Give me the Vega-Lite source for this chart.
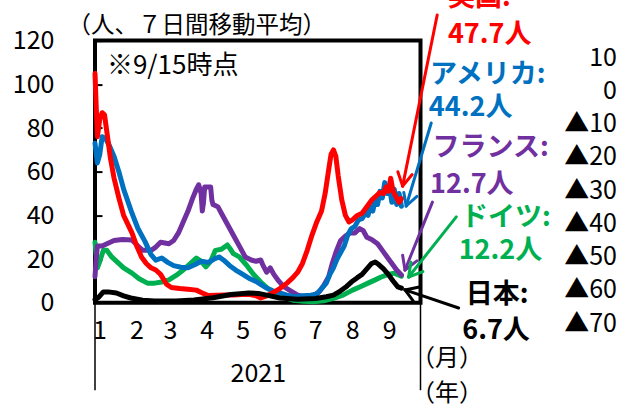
{
  "$schema": "https://vega.github.io/schema/vega-lite/v6.json",
  "width": 325.5,
  "height": 262.2,
  "autosize": "none",
  "padding": {"left": 95, "top": 40.6, "right": 198.5, "bottom": 102.2},
  "background": "white",
  "config": {
    "view": {"stroke": "black", "strokeWidth": 4},
    "font": "Noto Sans CJK JP",
    "axis": {"labelFont": "Noto Sans CJK JP", "titleFont": "Noto Sans CJK JP", "labelColor": "black", "titleColor": "black"}
  },
  "datasets": {
    "cases": [
      {"series": "ドイツ", "date": "2021-01-01", "value": 27.7},
      {"series": "ドイツ", "date": "2021-01-03", "value": 16},
      {"series": "ドイツ", "date": "2021-01-05", "value": 19},
      {"series": "ドイツ", "date": "2021-01-08", "value": 24},
      {"series": "ドイツ", "date": "2021-01-11", "value": 24},
      {"series": "ドイツ", "date": "2021-01-15", "value": 21},
      {"series": "ドイツ", "date": "2021-01-20", "value": 18.5},
      {"series": "ドイツ", "date": "2021-01-25", "value": 16},
      {"series": "ドイツ", "date": "2021-02-01", "value": 13.6},
      {"series": "ドイツ", "date": "2021-02-07", "value": 11},
      {"series": "ドイツ", "date": "2021-02-14", "value": 9},
      {"series": "ドイツ", "date": "2021-02-20", "value": 9},
      {"series": "ドイツ", "date": "2021-02-26", "value": 9.5},
      {"series": "ドイツ", "date": "2021-03-04", "value": 10.5},
      {"series": "ドイツ", "date": "2021-03-10", "value": 12.5},
      {"series": "ドイツ", "date": "2021-03-16", "value": 15},
      {"series": "ドイツ", "date": "2021-03-21", "value": 17.5},
      {"series": "ドイツ", "date": "2021-03-27", "value": 20.5},
      {"series": "ドイツ", "date": "2021-03-31", "value": 19},
      {"series": "ドイツ", "date": "2021-04-04", "value": 16.5},
      {"series": "ドイツ", "date": "2021-04-08", "value": 19},
      {"series": "ドイツ", "date": "2021-04-12", "value": 24},
      {"series": "ドイツ", "date": "2021-04-17", "value": 24.5},
      {"series": "ドイツ", "date": "2021-04-22", "value": 26.5},
      {"series": "ドイツ", "date": "2021-04-24", "value": 25},
      {"series": "ドイツ", "date": "2021-04-27", "value": 22.5},
      {"series": "ドイツ", "date": "2021-05-02", "value": 21},
      {"series": "ドイツ", "date": "2021-05-08", "value": 17.3},
      {"series": "ドイツ", "date": "2021-05-14", "value": 13},
      {"series": "ドイツ", "date": "2021-05-20", "value": 9.5},
      {"series": "ドイツ", "date": "2021-05-26", "value": 6.5},
      {"series": "ドイツ", "date": "2021-06-02", "value": 4.5},
      {"series": "ドイツ", "date": "2021-06-09", "value": 2.5},
      {"series": "ドイツ", "date": "2021-06-16", "value": 1.2},
      {"series": "ドイツ", "date": "2021-06-25", "value": 0.7},
      {"series": "ドイツ", "date": "2021-07-03", "value": 0.5},
      {"series": "ドイツ", "date": "2021-07-12", "value": 0.9},
      {"series": "ドイツ", "date": "2021-07-20", "value": 2},
      {"series": "ドイツ", "date": "2021-07-28", "value": 3.5},
      {"series": "ドイツ", "date": "2021-08-05", "value": 5.8},
      {"series": "ドイツ", "date": "2021-08-12", "value": 7.5},
      {"series": "ドイツ", "date": "2021-08-18", "value": 9},
      {"series": "ドイツ", "date": "2021-08-24", "value": 10.5},
      {"series": "ドイツ", "date": "2021-08-29", "value": 11.8},
      {"series": "ドイツ", "date": "2021-09-04", "value": 13},
      {"series": "ドイツ", "date": "2021-09-09", "value": 13.6},
      {"series": "ドイツ", "date": "2021-09-15", "value": 12.2},

      {"series": "フランス", "date": "2021-01-01", "value": 12},
      {"series": "フランス", "date": "2021-01-02", "value": 20},
      {"series": "フランス", "date": "2021-01-03", "value": 26},
      {"series": "フランス", "date": "2021-01-07", "value": 26},
      {"series": "フランス", "date": "2021-01-11", "value": 27},
      {"series": "フランス", "date": "2021-01-17", "value": 28.5},
      {"series": "フランス", "date": "2021-01-24", "value": 29},
      {"series": "フランス", "date": "2021-02-01", "value": 28.7},
      {"series": "フランス", "date": "2021-02-06", "value": 26},
      {"series": "フランス", "date": "2021-02-10", "value": 24},
      {"series": "フランス", "date": "2021-02-17", "value": 24},
      {"series": "フランス", "date": "2021-02-21", "value": 25.5},
      {"series": "フランス", "date": "2021-02-25", "value": 27.7},
      {"series": "フランス", "date": "2021-03-04", "value": 27},
      {"series": "フランス", "date": "2021-03-08", "value": 28.5},
      {"series": "フランス", "date": "2021-03-12", "value": 32},
      {"series": "フランス", "date": "2021-03-16", "value": 37},
      {"series": "フランス", "date": "2021-03-20", "value": 42},
      {"series": "フランス", "date": "2021-03-24", "value": 48},
      {"series": "フランス", "date": "2021-03-27", "value": 52},
      {"series": "フランス", "date": "2021-03-29", "value": 54},
      {"series": "フランス", "date": "2021-03-31", "value": 50},
      {"series": "フランス", "date": "2021-04-01", "value": 42},
      {"series": "フランス", "date": "2021-04-02", "value": 46},
      {"series": "フランス", "date": "2021-04-03", "value": 53},
      {"series": "フランス", "date": "2021-04-08", "value": 53},
      {"series": "フランス", "date": "2021-04-09", "value": 47},
      {"series": "フランス", "date": "2021-04-10", "value": 45},
      {"series": "フランス", "date": "2021-04-14", "value": 44},
      {"series": "フランス", "date": "2021-04-17", "value": 41},
      {"series": "フランス", "date": "2021-04-21", "value": 37},
      {"series": "フランス", "date": "2021-04-24", "value": 34},
      {"series": "フランス", "date": "2021-04-28", "value": 30},
      {"series": "フランス", "date": "2021-05-03", "value": 25},
      {"series": "フランス", "date": "2021-05-07", "value": 21},
      {"series": "フランス", "date": "2021-05-12", "value": 19.6},
      {"series": "フランス", "date": "2021-05-16", "value": 19},
      {"series": "フランス", "date": "2021-05-20", "value": 19.6},
      {"series": "フランス", "date": "2021-05-22", "value": 17},
      {"series": "フランス", "date": "2021-05-25", "value": 14},
      {"series": "フランス", "date": "2021-05-28", "value": 16},
      {"series": "フランス", "date": "2021-05-31", "value": 13},
      {"series": "フランス", "date": "2021-06-04", "value": 10},
      {"series": "フランス", "date": "2021-06-08", "value": 7.5},
      {"series": "フランス", "date": "2021-06-14", "value": 5.5},
      {"series": "フランス", "date": "2021-06-20", "value": 3.5},
      {"series": "フランス", "date": "2021-06-26", "value": 2.7},
      {"series": "フランス", "date": "2021-07-03", "value": 3.2},
      {"series": "フランス", "date": "2021-07-08", "value": 5},
      {"series": "フランス", "date": "2021-07-12", "value": 8},
      {"series": "フランス", "date": "2021-07-16", "value": 12},
      {"series": "フランス", "date": "2021-07-19", "value": 18},
      {"series": "フランス", "date": "2021-07-22", "value": 23},
      {"series": "フランス", "date": "2021-07-26", "value": 28.5},
      {"series": "フランス", "date": "2021-07-30", "value": 30.5},
      {"series": "フランス", "date": "2021-08-03", "value": 32},
      {"series": "フランス", "date": "2021-08-07", "value": 32},
      {"series": "フランス", "date": "2021-08-11", "value": 34},
      {"series": "フランス", "date": "2021-08-14", "value": 33},
      {"series": "フランス", "date": "2021-08-17", "value": 30},
      {"series": "フランス", "date": "2021-08-21", "value": 29},
      {"series": "フランス", "date": "2021-08-26", "value": 27},
      {"series": "フランス", "date": "2021-08-30", "value": 24},
      {"series": "フランス", "date": "2021-09-03", "value": 21},
      {"series": "フランス", "date": "2021-09-07", "value": 18},
      {"series": "フランス", "date": "2021-09-11", "value": 15},
      {"series": "フランス", "date": "2021-09-15", "value": 12.7},

      {"series": "アメリカ", "date": "2021-01-01", "value": 73},
      {"series": "アメリカ", "date": "2021-01-03", "value": 64},
      {"series": "アメリカ", "date": "2021-01-05", "value": 68},
      {"series": "アメリカ", "date": "2021-01-07", "value": 76},
      {"series": "アメリカ", "date": "2021-01-10", "value": 75},
      {"series": "アメリカ", "date": "2021-01-13", "value": 72},
      {"series": "アメリカ", "date": "2021-01-17", "value": 67},
      {"series": "アメリカ", "date": "2021-01-21", "value": 60},
      {"series": "アメリカ", "date": "2021-01-25", "value": 52},
      {"series": "アメリカ", "date": "2021-02-01", "value": 41},
      {"series": "アメリカ", "date": "2021-02-06", "value": 34},
      {"series": "アメリカ", "date": "2021-02-12", "value": 28},
      {"series": "アメリカ", "date": "2021-02-17", "value": 22},
      {"series": "アメリカ", "date": "2021-02-21", "value": 19.5},
      {"series": "アメリカ", "date": "2021-02-26", "value": 20.5},
      {"series": "アメリカ", "date": "2021-03-03", "value": 18.5},
      {"series": "アメリカ", "date": "2021-03-08", "value": 17},
      {"series": "アメリカ", "date": "2021-03-14", "value": 16.3},
      {"series": "アメリカ", "date": "2021-03-20", "value": 16},
      {"series": "アメリカ", "date": "2021-03-26", "value": 17.5},
      {"series": "アメリカ", "date": "2021-03-31", "value": 19},
      {"series": "アメリカ", "date": "2021-04-06", "value": 18.5},
      {"series": "アメリカ", "date": "2021-04-11", "value": 20},
      {"series": "アメリカ", "date": "2021-04-15", "value": 21},
      {"series": "アメリカ", "date": "2021-04-19", "value": 19.5},
      {"series": "アメリカ", "date": "2021-04-24", "value": 17},
      {"series": "アメリカ", "date": "2021-04-29", "value": 15},
      {"series": "アメリカ", "date": "2021-05-05", "value": 13},
      {"series": "アメリカ", "date": "2021-05-11", "value": 11},
      {"series": "アメリカ", "date": "2021-05-17", "value": 9.5},
      {"series": "アメリカ", "date": "2021-05-24", "value": 7},
      {"series": "アメリカ", "date": "2021-05-30", "value": 5.5},
      {"series": "アメリカ", "date": "2021-06-05", "value": 4.5},
      {"series": "アメリカ", "date": "2021-06-11", "value": 3.5},
      {"series": "アメリカ", "date": "2021-06-17", "value": 2.8},
      {"series": "アメリカ", "date": "2021-06-24", "value": 3.2},
      {"series": "アメリカ", "date": "2021-07-01", "value": 3.5},
      {"series": "アメリカ", "date": "2021-07-06", "value": 4},
      {"series": "アメリカ", "date": "2021-07-10", "value": 6.5},
      {"series": "アメリカ", "date": "2021-07-14", "value": 9},
      {"series": "アメリカ", "date": "2021-07-17", "value": 13},
      {"series": "アメリカ", "date": "2021-07-20", "value": 16},
      {"series": "アメリカ", "date": "2021-07-23", "value": 20},
      {"series": "アメリカ", "date": "2021-07-26", "value": 23},
      {"series": "アメリカ", "date": "2021-07-29", "value": 26},
      {"series": "アメリカ", "date": "2021-08-01", "value": 31},
      {"series": "アメリカ", "date": "2021-08-04", "value": 34},
      {"series": "アメリカ", "date": "2021-08-07", "value": 35},
      {"series": "アメリカ", "date": "2021-08-10", "value": 38},
      {"series": "アメリカ", "date": "2021-08-13", "value": 38.5},
      {"series": "アメリカ", "date": "2021-08-16", "value": 41},
      {"series": "アメリカ", "date": "2021-08-18", "value": 40},
      {"series": "アメリカ", "date": "2021-08-20", "value": 44},
      {"series": "アメリカ", "date": "2021-08-22", "value": 42},
      {"series": "アメリカ", "date": "2021-08-24", "value": 47},
      {"series": "アメリカ", "date": "2021-08-26", "value": 45},
      {"series": "アメリカ", "date": "2021-08-28", "value": 51},
      {"series": "アメリカ", "date": "2021-08-30", "value": 48},
      {"series": "アメリカ", "date": "2021-09-01", "value": 55},
      {"series": "アメリカ", "date": "2021-09-03", "value": 50},
      {"series": "アメリカ", "date": "2021-09-05", "value": 53},
      {"series": "アメリカ", "date": "2021-09-07", "value": 46},
      {"series": "アメリカ", "date": "2021-09-09", "value": 52},
      {"series": "アメリカ", "date": "2021-09-11", "value": 45},
      {"series": "アメリカ", "date": "2021-09-13", "value": 50},
      {"series": "アメリカ", "date": "2021-09-15", "value": 44.2},

      {"series": "英国", "date": "2021-01-01", "value": 105},
      {"series": "英国", "date": "2021-01-02", "value": 90},
      {"series": "英国", "date": "2021-01-03", "value": 76},
      {"series": "英国", "date": "2021-01-05", "value": 84},
      {"series": "英国", "date": "2021-01-07", "value": 87},
      {"series": "英国", "date": "2021-01-09", "value": 86},
      {"series": "英国", "date": "2021-01-11", "value": 78},
      {"series": "英国", "date": "2021-01-14", "value": 66},
      {"series": "英国", "date": "2021-01-17", "value": 57},
      {"series": "英国", "date": "2021-01-21", "value": 48},
      {"series": "英国", "date": "2021-01-25", "value": 40},
      {"series": "英国", "date": "2021-02-01", "value": 32},
      {"series": "英国", "date": "2021-02-05", "value": 26},
      {"series": "英国", "date": "2021-02-09", "value": 21},
      {"series": "英国", "date": "2021-02-13", "value": 18},
      {"series": "英国", "date": "2021-02-17", "value": 16},
      {"series": "英国", "date": "2021-02-21", "value": 15},
      {"series": "英国", "date": "2021-02-25", "value": 13},
      {"series": "英国", "date": "2021-03-02", "value": 8.5},
      {"series": "英国", "date": "2021-03-06", "value": 7},
      {"series": "英国", "date": "2021-03-13", "value": 6.5},
      {"series": "英国", "date": "2021-03-20", "value": 6.2},
      {"series": "英国", "date": "2021-03-27", "value": 5.8},
      {"series": "英国", "date": "2021-04-01", "value": 4.5},
      {"series": "英国", "date": "2021-04-06", "value": 3.3},
      {"series": "英国", "date": "2021-04-13", "value": 3.5},
      {"series": "英国", "date": "2021-04-20", "value": 3.6},
      {"series": "英国", "date": "2021-04-27", "value": 3.6},
      {"series": "英国", "date": "2021-05-04", "value": 3.8},
      {"series": "英国", "date": "2021-05-11", "value": 3.8},
      {"series": "英国", "date": "2021-05-16", "value": 3.2},
      {"series": "英国", "date": "2021-05-20", "value": 2.2},
      {"series": "英国", "date": "2021-05-25", "value": 3.2},
      {"series": "英国", "date": "2021-05-30", "value": 4.5},
      {"series": "英国", "date": "2021-06-05", "value": 6.5},
      {"series": "英国", "date": "2021-06-11", "value": 9},
      {"series": "英国", "date": "2021-06-16", "value": 11.5},
      {"series": "英国", "date": "2021-06-20", "value": 14},
      {"series": "英国", "date": "2021-06-24", "value": 18},
      {"series": "英国", "date": "2021-06-28", "value": 24},
      {"series": "英国", "date": "2021-07-02", "value": 31},
      {"series": "英国", "date": "2021-07-06", "value": 37},
      {"series": "英国", "date": "2021-07-10", "value": 42},
      {"series": "英国", "date": "2021-07-13", "value": 50},
      {"series": "英国", "date": "2021-07-16", "value": 61},
      {"series": "英国", "date": "2021-07-18", "value": 68},
      {"series": "英国", "date": "2021-07-20", "value": 70},
      {"series": "英国", "date": "2021-07-22", "value": 67},
      {"series": "英国", "date": "2021-07-24", "value": 58},
      {"series": "英国", "date": "2021-07-27", "value": 47},
      {"series": "英国", "date": "2021-07-30", "value": 40},
      {"series": "英国", "date": "2021-08-02", "value": 37},
      {"series": "英国", "date": "2021-08-05", "value": 38},
      {"series": "英国", "date": "2021-08-09", "value": 40},
      {"series": "英国", "date": "2021-08-13", "value": 41},
      {"series": "英国", "date": "2021-08-17", "value": 44},
      {"series": "英国", "date": "2021-08-21", "value": 47},
      {"series": "英国", "date": "2021-08-25", "value": 49},
      {"series": "英国", "date": "2021-08-28", "value": 50.5},
      {"series": "英国", "date": "2021-08-31", "value": 50},
      {"series": "英国", "date": "2021-09-02", "value": 53},
      {"series": "英国", "date": "2021-09-04", "value": 51},
      {"series": "英国", "date": "2021-09-06", "value": 57},
      {"series": "英国", "date": "2021-09-08", "value": 51},
      {"series": "英国", "date": "2021-09-11", "value": 48},
      {"series": "英国", "date": "2021-09-13", "value": 46},
      {"series": "英国", "date": "2021-09-15", "value": 47.7},

      {"series": "日本", "date": "2021-01-01", "value": 1.5},
      {"series": "日本", "date": "2021-01-04", "value": 2.5},
      {"series": "日本", "date": "2021-01-08", "value": 5},
      {"series": "日本", "date": "2021-01-12", "value": 5},
      {"series": "日本", "date": "2021-01-19", "value": 4.5},
      {"series": "日本", "date": "2021-01-25", "value": 3.2},
      {"series": "日本", "date": "2021-01-31", "value": 2.2},
      {"series": "日本", "date": "2021-02-10", "value": 1.2},
      {"series": "日本", "date": "2021-02-20", "value": 0.8},
      {"series": "日本", "date": "2021-03-10", "value": 0.8},
      {"series": "日本", "date": "2021-03-25", "value": 1.3},
      {"series": "日本", "date": "2021-04-10", "value": 2.3},
      {"series": "日本", "date": "2021-04-25", "value": 3.8},
      {"series": "日本", "date": "2021-05-10", "value": 4.5},
      {"series": "日本", "date": "2021-05-18", "value": 4.3},
      {"series": "日本", "date": "2021-05-25", "value": 3.5},
      {"series": "日本", "date": "2021-06-05", "value": 2.2},
      {"series": "日本", "date": "2021-06-20", "value": 1.6},
      {"series": "日本", "date": "2021-07-05", "value": 2},
      {"series": "日本", "date": "2021-07-14", "value": 2.8},
      {"series": "日本", "date": "2021-07-20", "value": 3.5},
      {"series": "日本", "date": "2021-07-26", "value": 5.5},
      {"series": "日本", "date": "2021-07-31", "value": 7.5},
      {"series": "日本", "date": "2021-08-04", "value": 9.5},
      {"series": "日本", "date": "2021-08-09", "value": 11.5},
      {"series": "日本", "date": "2021-08-13", "value": 13},
      {"series": "日本", "date": "2021-08-17", "value": 15.5},
      {"series": "日本", "date": "2021-08-21", "value": 18},
      {"series": "日本", "date": "2021-08-24", "value": 18.7},
      {"series": "日本", "date": "2021-08-27", "value": 17.5},
      {"series": "日本", "date": "2021-08-31", "value": 15.5},
      {"series": "日本", "date": "2021-09-04", "value": 13},
      {"series": "日本", "date": "2021-09-08", "value": 10},
      {"series": "日本", "date": "2021-09-12", "value": 7.3},
      {"series": "日本", "date": "2021-09-15", "value": 6.7}
    ],
    "arrows": [
      {"series": "英国", "d1": "2021-10-15", "v1": 131.7, "d2": "2021-09-16", "v2": 53.4},
      {"series": "英国", "d1": "2021-09-12", "v1": 60.0, "d2": "2021-09-16", "v2": 53.4},
      {"series": "英国", "d1": "2021-09-24", "v1": 58.7, "d2": "2021-09-16", "v2": 53.4},
      {"series": "アメリカ", "d1": "2021-10-10", "v1": 82.3, "d2": "2021-09-19", "v2": 44.3},
      {"series": "アメリカ", "d1": "2021-09-17", "v1": 50.5, "d2": "2021-09-19", "v2": 44.3},
      {"series": "アメリカ", "d1": "2021-09-28", "v1": 48.7, "d2": "2021-09-19", "v2": 44.3},
      {"series": "フランス", "d1": "2021-10-11", "v1": 46.1, "d2": "2021-09-18", "v2": 15.0},
      {"series": "フランス", "d1": "2021-09-16", "v1": 21.8, "d2": "2021-09-18", "v2": 15.0},
      {"series": "フランス", "d1": "2021-09-28", "v1": 19.2, "d2": "2021-09-18", "v2": 15.0},
      {"series": "ドイツ", "d1": "2021-10-31", "v1": 39.3, "d2": "2021-09-21", "v2": 11.8},
      {"series": "ドイツ", "d1": "2021-09-23", "v1": 18.6, "d2": "2021-09-21", "v2": 11.8},
      {"series": "ドイツ", "d1": "2021-10-03", "v1": 14.3, "d2": "2021-09-21", "v2": 11.8},
      {"series": "日本", "d1": "2021-11-02", "v1": -2.4, "d2": "2021-09-18", "v2": 5.9},
      {"series": "日本", "d1": "2021-09-25", "v1": 0.8, "d2": "2021-09-18", "v2": 5.9},
      {"series": "日本", "d1": "2021-09-30", "v1": 7.2, "d2": "2021-09-18", "v2": 5.9}
    ],
    "labels": [
      {"series": "英国", "label": "英国:", "date": "2021-10-24", "value": 139.5},
      {"series": "英国", "label": "47.7人", "date": "2021-10-24", "value": 122.6},
      {"series": "アメリカ", "label": "アメリカ:", "date": "2021-10-09", "value": 104.3},
      {"series": "アメリカ", "label": "44.2人", "date": "2021-10-08", "value": 89.2},
      {"series": "フランス", "label": "フランス:", "date": "2021-10-11", "value": 70.8},
      {"series": "フランス", "label": "12.7人", "date": "2021-10-09", "value": 53.9},
      {"series": "ドイツ", "label": "ドイツ:", "date": "2021-11-04", "value": 38.8},
      {"series": "ドイツ", "label": "12.2人", "date": "2021-11-02", "value": 23.7},
      {"series": "日本", "label": "日本:", "date": "2021-11-08", "value": 3.6},
      {"series": "日本", "label": "6.7人", "date": "2021-11-05", "value": -12.9}
    ],
    "notes": [
      {"label": "※9/15時点", "date": "2021-01-11", "value": 108.4, "size": "m"},
      {"label": "（月）", "date": "2021-09-23", "value": -25.5, "size": "s"},
      {"label": "（年）", "date": "2021-09-23", "value": -41.7, "size": "s"}
    ],
    "unit": [
      {"label": "（人、７日間移動平均）", "date": "2020-12-09", "value": 126.6}
    ],
    "edges": [
      {"date": "2021-01-01"},
      {"date": "2021-10-01"}
    ]
  },
  "layer": [
    {
      "layer": [
        {
          "data": {"name": "cases"},
          "mark": {"type": "line", "strokeWidth": 5, "strokeJoin": "round", "strokeCap": "round"},
          "encoding": {
            "x": {
              "field": "date", "type": "temporal", "title": "2021",
              "scale": {"type": "utc", "domain": [{"year": 2021, "month": 1, "date": 1, "utc": true}, {"year": 2021, "month": 10, "date": 1, "utc": true}]},
              "axis": {
                "values": [
                  {"year": 2021, "month": 1, "date": 1, "utc": true},
                  {"year": 2021, "month": 2, "date": 1, "utc": true},
                  {"year": 2021, "month": 3, "date": 1, "utc": true},
                  {"year": 2021, "month": 4, "date": 1, "utc": true},
                  {"year": 2021, "month": 5, "date": 1, "utc": true},
                  {"year": 2021, "month": 6, "date": 1, "utc": true},
                  {"year": 2021, "month": 7, "date": 1, "utc": true},
                  {"year": 2021, "month": 8, "date": 1, "utc": true},
                  {"year": 2021, "month": 9, "date": 1, "utc": true}
                ],
                "labelExpr": "utcFormat(datum.value, '%-m')",
                "ticks": false, "domain": false, "grid": false,
                "labelFontSize": 25, "labelPadding": 16, "labelOffset": 4.5, "labelFlush": false, "labelOverlap": false,
                "titleFontSize": 25, "titleFontWeight": "normal", "titlePadding": 18
              }
            },
            "y": {
              "field": "value", "type": "quantitative", "title": null,
              "scale": {"domain": [0, 120], "nice": false},
              "axis": {
                "values": [0, 20, 40, 60, 80, 100, 120],
                "domain": false, "grid": false, "ticks": true, "tickSize": -7, "tickWidth": 2, "tickColor": "black",
                "labelFontSize": 25, "labelPadding": 48
              }
            },
            "color": {
              "field": "series", "type": "nominal", "legend": null,
              "scale": {"domain": ["ドイツ", "フランス", "アメリカ", "英国", "日本"], "range": ["#00B050", "#7030A0", "#0070C0", "#FF0000", "#000000"]}
            }
          }
        },
        {
          "data": {"name": "arrows"},
          "mark": {"type": "rule", "strokeWidth": 3, "strokeCap": "round"},
          "encoding": {
            "x": {"field": "d1", "type": "temporal", "title": "2021"},
            "x2": {"field": "d2"},
            "y": {"field": "v1", "type": "quantitative", "title": null},
            "y2": {"field": "v2"},
            "color": {"field": "series", "type": "nominal", "legend": null}
          }
        },
        {
          "data": {"name": "labels"},
          "mark": {"type": "text", "align": "left", "baseline": "middle", "fontSize": 27, "fontWeight": "bold", "font": "Noto Sans CJK JP"},
          "encoding": {
            "x": {"field": "date", "type": "temporal", "title": "2021"},
            "y": {"field": "value", "type": "quantitative", "title": null},
            "text": {"field": "label"},
            "color": {"field": "series", "type": "nominal", "legend": null}
          }
        },
        {
          "data": {"name": "notes"},
          "mark": {"type": "text", "align": "left", "baseline": "middle", "font": "Noto Sans CJK JP", "color": "black"},
          "encoding": {
            "x": {"field": "date", "type": "temporal", "title": "2021"},
            "y": {"field": "value", "type": "quantitative", "title": null},
            "text": {"field": "label"},
            "size": {"field": "size", "type": "nominal", "legend": null, "scale": {"domain": ["m", "s"], "range": [26, 24]}}
          }
        },
        {
          "data": {"name": "unit"},
          "mark": {"type": "text", "align": "left", "baseline": "middle", "fontSize": 23.5, "font": "Noto Sans CJK JP", "color": "black"},
          "encoding": {
            "x": {"field": "date", "type": "temporal", "title": "2021"},
            "y": {"field": "value", "type": "quantitative", "title": null},
            "text": {"field": "label"}
          }
        },
        {
          "data": {"name": "edges"},
          "mark": {"type": "rule", "strokeWidth": 1.5, "color": "black"},
          "encoding": {
            "x": {"field": "date", "type": "temporal", "title": "2021"},
            "y": {"datum": 0, "type": "quantitative", "title": null},
            "y2": {"datum": -40}
          }
        }
      ]
    },
    {
      "data": {"values": [{}]},
      "mark": {"type": "point", "opacity": 0},
      "encoding": {
        "y": {
          "datum": 0, "type": "quantitative", "title": null,
          "scale": {"domain": [-70, 10], "range": [282.4, 16.4], "nice": false, "zero": false},
          "axis": {
            "orient": "right",
            "values": [10, 0, -10, -20, -30, -40, -50, -60, -70],
            "labelExpr": "datum.value < 0 ? '▲' + (-datum.value) : '' + datum.value",
            "domain": false, "ticks": false, "grid": false,
            "labelAlign": "right", "labelPadding": 196, "labelFontSize": 25
          }
        }
      }
    }
  ],
  "resolve": {"scale": {"y": "independent"}}
}
